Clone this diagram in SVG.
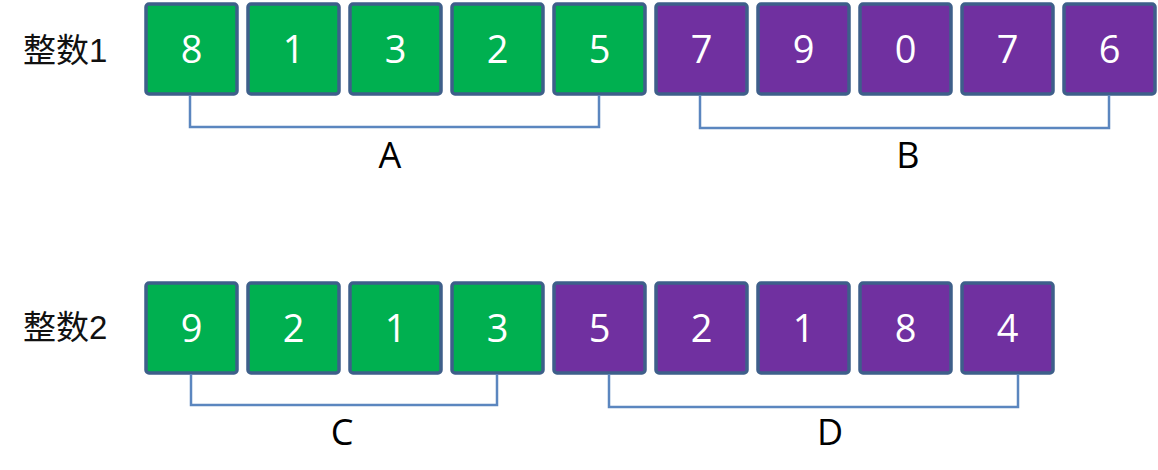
<svg xmlns="http://www.w3.org/2000/svg" width="1158" height="470" viewBox="0 0 1158 470">
<style>
.g{fill:#00b050;stroke:#3e5f8a;stroke-width:3.5}
.p{fill:#7030a0;stroke:#3e5f8a;stroke-width:3.5}
.d{fill:#ffffff;font-family:"Open Sans","Liberation Sans",sans-serif;font-size:38px;text-anchor:middle}
.lbl{fill:#000;font-family:"Open Sans","Liberation Sans",sans-serif;font-size:36px;text-anchor:middle}
.h{fill:#111;font-family:"Liberation Sans","Noto Sans CJK SC",sans-serif;font-size:33px}
.br{fill:none;stroke:#5b86bf;stroke-width:2.5}
</style>
<g id="label1"><text class="h" x="23" y="62">整数1</text></g>
<g id="label2"><text class="h" x="23" y="339">整数2</text></g>
<g id="row1">
<g id="n1_0"><rect class="g" x="146" y="4" width="91" height="90" rx="3"/><text class="d" x="191.5" y="63">8</text></g>
<g id="n1_1"><rect class="g" x="248" y="4" width="91" height="90" rx="3"/><text class="d" x="293.5" y="63">1</text></g>
<g id="n1_2"><rect class="g" x="350" y="4" width="91" height="90" rx="3"/><text class="d" x="395.5" y="63">3</text></g>
<g id="n1_3"><rect class="g" x="452" y="4" width="91" height="90" rx="3"/><text class="d" x="497.5" y="63">2</text></g>
<g id="n1_4"><rect class="g" x="554" y="4" width="91" height="90" rx="3"/><text class="d" x="599.5" y="63">5</text></g>
<g id="n1_5"><rect class="p" x="656" y="4" width="91" height="90" rx="3"/><text class="d" x="701.5" y="63">7</text></g>
<g id="n1_6"><rect class="p" x="758" y="4" width="91" height="90" rx="3"/><text class="d" x="803.5" y="63">9</text></g>
<g id="n1_7"><rect class="p" x="860" y="4" width="91" height="90" rx="3"/><text class="d" x="905.5" y="63">0</text></g>
<g id="n1_8"><rect class="p" x="962" y="4" width="91" height="90" rx="3"/><text class="d" x="1007.5" y="63">7</text></g>
<g id="n1_9"><rect class="p" x="1064" y="4" width="91" height="90" rx="3"/><text class="d" x="1109.5" y="63">6</text></g>
</g>
<g id="row2">
<g id="n2_0"><rect class="g" x="146" y="283" width="91" height="90" rx="3"/><text class="d" x="191.5" y="342">9</text></g>
<g id="n2_1"><rect class="g" x="248" y="283" width="91" height="90" rx="3"/><text class="d" x="293.5" y="342">2</text></g>
<g id="n2_2"><rect class="g" x="350" y="283" width="91" height="90" rx="3"/><text class="d" x="395.5" y="342">1</text></g>
<g id="n2_3"><rect class="g" x="452" y="283" width="91" height="90" rx="3"/><text class="d" x="497.5" y="342">3</text></g>
<g id="n2_4"><rect class="p" x="554" y="283" width="91" height="90" rx="3"/><text class="d" x="599.5" y="342">5</text></g>
<g id="n2_5"><rect class="p" x="656" y="283" width="91" height="90" rx="3"/><text class="d" x="701.5" y="342">2</text></g>
<g id="n2_6"><rect class="p" x="758" y="283" width="91" height="90" rx="3"/><text class="d" x="803.5" y="342">1</text></g>
<g id="n2_7"><rect class="p" x="860" y="283" width="91" height="90" rx="3"/><text class="d" x="905.5" y="342">8</text></g>
<g id="n2_8"><rect class="p" x="962" y="283" width="91" height="90" rx="3"/><text class="d" x="1007.5" y="342">4</text></g>
</g>
<g id="connectors">
<polyline class="br" points="190,95 190,127 599,127 599,95"/>
<polyline class="br" points="700,95 700,128 1109,128 1109,95"/>
<polyline class="br" points="191,374 191,405 497,405 497,374"/>
<polyline class="br" points="609,374 609,407 1018,407 1018,374"/>
</g>
<g id="labels">
<text class="lbl" x="390" y="168">A</text>
<text class="lbl" x="908" y="168">B</text>
<text class="lbl" x="342" y="445">C</text>
<text class="lbl" x="830" y="445">D</text>
</g>
</svg>
